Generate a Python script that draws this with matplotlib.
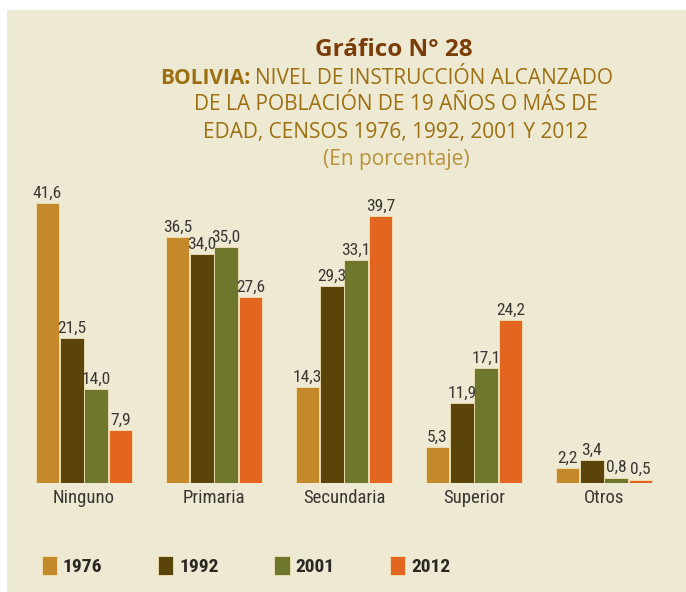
import matplotlib
matplotlib.use("Agg")
import matplotlib.pyplot as plt
from matplotlib.patches import Rectangle
import numpy as np
from matplotlib import font_manager

names = {f.name for f in font_manager.fontManager.ttflist}
cond = next((n for n in ["Liberation Sans Narrow", "DejaVu Sans Condensed", "Roboto Condensed", "Open Sans Condensed"] if n in names), "Liberation Sans")

categories = ["Ninguno", "Primaria", "Secundaria", "Superior", "Otros"]
years = ["1976", "1992", "2001", "2012"]
v1976 = [41.6, 36.5, 14.3, 5.3, 2.2]
v1992 = [21.5, 34.0, 29.3, 11.9, 3.4]
v2001 = [14.0, 35.0, 33.1, 17.1, 0.8]
v2012 = [7.9, 27.6, 39.7, 24.2, 0.5]
series = [v1976, v1992, v2001, v2012]
colors = ["#C4892A", "#5A4409", "#6E772B", "#E2661F"]

W, H = 686, 592
fig = plt.figure(figsize=(W / 100, H / 100), dpi=100)
fig.patch.set_facecolor("white")
fig.patches.append(Rectangle((7 / W, 0), 1 - 7 / W, 1 - 10 / H, transform=fig.transFigure,
                             facecolor="#EEE9D3", edgecolor="none", zorder=-10))

# axes: baseline at y=483 px, 6.73 px per unit
base = 483
ppu = 6.73
ymax = 46
ax_h = ymax * ppu
ax = fig.add_axes([0, (H - base) / H, 1, ax_h / H])
ax.set_facecolor("none")
ax.set_zorder(5)
gap_px = 130
x0 = 84
ax.set_xlim(-x0 / gap_px, (W - x0) / gap_px)
ax.set_ylim(0, ymax)
for s in ax.spines.values():
    s.set_visible(False)
ax.set_yticks([])
ax.tick_params(axis="x", length=0, pad=4)

x = np.arange(len(categories))
bw = 0.182
step = 0.188
for i, (vals, c, yr) in enumerate(zip(series, colors, years)):
    pos = x + (i - 1.5) * step
    bars = ax.bar(pos, vals, width=bw, color=c, edgecolor="#F3E2B8", linewidth=0.6, label=yr)
    for b, v in zip(bars, vals):
        ax.text(b.get_x() + b.get_width() / 2, v + 0.35, f"{v:.1f}".replace(".", ","),
                ha="center", va="bottom", fontsize=12.5, color="#3A3632", family=[cond, "DejaVu Sans"])

ax.set_xticks(x)
ax.set_xticklabels(categories, fontsize=13.5, color="#3A3632", family=[cond, "DejaVu Sans"])

# titles
fig.text(394 / W, 1 - 50 / H, "Gráfico N° 28", ha="center", va="center", fontsize=17.5,
         fontweight="bold", color="#7A3C08", family=["Open Sans", "DejaVu Sans"])
gold = "#9C7010"
t = fig.text(160 / W, 1 - 78 / H, "BOLIVIA:", ha="left", va="center", fontsize=15,
             fontweight="bold", color=gold, family=["Open Sans", "DejaVu Sans"])
fig.canvas.draw()
bb = t.get_window_extent()
fig.text((bb.x1 + 5) / W, 1 - 78 / H, "NIVEL DE INSTRUCCIÓN ALCANZADO", ha="left", va="center",
         fontsize=15, color=gold, family=["Open Sans", "DejaVu Sans"])
fig.text(396 / W, 1 - 105 / H, "DE LA POBLACIÓN DE 19 AÑOS O MÁS DE", ha="center", va="center",
         fontsize=15, color=gold, family=["Open Sans", "DejaVu Sans"])
fig.text(396 / W, 1 - 132 / H, "EDAD, CENSOS 1976, 1992, 2001 Y 2012", ha="center", va="center",
         fontsize=15, color=gold, family=["Open Sans", "DejaVu Sans"])
fig.text(396 / W, 1 - 159 / H, "(En porcentaje)", ha="center", va="center",
         fontsize=15, color="#B8923A", family=["Open Sans", "DejaVu Sans"])

leg = fig.legend(loc="center left", bbox_to_anchor=(24 / W, 1 - 566 / H), ncol=4, frameon=False,
                 handlelength=0.8, handleheight=1.1, handletextpad=0.3, columnspacing=2.85,
                 prop={"family": [cond, "DejaVu Sans"], "weight": "bold", "size": 14})
for txt in leg.get_texts():
    txt.set_color("#2A2622")

fig.savefig("out.png", dpi=100, facecolor=fig.get_facecolor())
